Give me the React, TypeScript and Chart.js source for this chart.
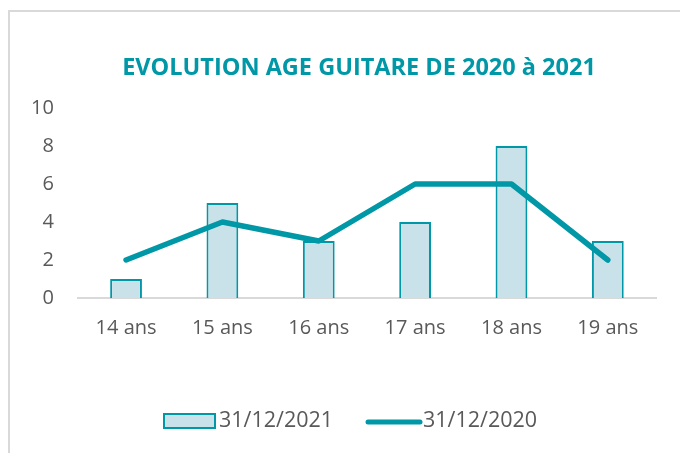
import React, { useEffect, useRef } from "react";
import { Chart, registerables } from "chart.js";

Chart.register(...registerables);

const categories = ["14 ans", "15 ans", "16 ans", "17 ans", "18 ans", "19 ans"];
const bars2021 = [1, 5, 3, 4, 8, 3];
const line2020 = [2, 4, 3, 6, 6, 2];
const yTicks = [0, 2, 4, 6, 8, 10];
const titleText = "EVOLUTION AGE GUITARE DE 2020 à 2021";
const label2021 = "31/12/2021";
const label2020 = "31/12/2020";

const TEAL = "#0097A7";
const BAR_FILL = "#C9E2E9";
const TEXT = "#595959";
const FONT = "'Open Sans', sans-serif";

const overlay = {
  id: "overlay",
  afterDraw(chart: any) {
    const ctx = chart.ctx;
    ctx.save();
    // title
    ctx.fillStyle = TEAL;
    ctx.font = `700 23.5px ${FONT}`;
    ctx.textAlign = "center";
    ctx.textBaseline = "alphabetic";
    ctx.fillText(titleText, 359, 75);
    // legend
    ctx.font = `21.5px ${FONT}`;
    ctx.textAlign = "left";
    ctx.textBaseline = "middle";
    const ly = 421;
    ctx.fillStyle = BAR_FILL;
    ctx.fillRect(164, 414, 51, 14);
    ctx.strokeStyle = TEAL;
    ctx.lineWidth = 2;
    ctx.strokeRect(164, 414, 51, 14);
    ctx.fillStyle = TEXT;
    ctx.fillText(chart.data.datasets[0].label, 219, ly);
    ctx.strokeStyle = TEAL;
    ctx.lineWidth = 5;
    ctx.lineCap = "round";
    ctx.beginPath();
    ctx.moveTo(368, 422);
    ctx.lineTo(420, 422);
    ctx.stroke();
    ctx.fillStyle = TEXT;
    ctx.fillText(chart.data.datasets[1].label, 423, ly);
    ctx.restore();
  },
};

export default function App() {
  const ref = useRef<HTMLCanvasElement>(null);
  useEffect(() => {
    const chart = new Chart(ref.current!, {
      type: "bar",
      data: {
        labels: categories,
        datasets: [
          {
            type: "bar",
            label: label2021,
            data: bars2021,
            backgroundColor: BAR_FILL,
            borderColor: TEAL,
            borderWidth: 2,
            barPercentage: 0.33,
            categoryPercentage: 1,
            order: 2,
          },
          {
            type: "line",
            label: label2020,
            data: line2020,
            borderColor: TEAL,
            borderWidth: 5.5,
            pointRadius: 0,
            borderCapStyle: "round",
            borderJoinStyle: "round",
            tension: 0,
            order: 1,
          } as any,
        ],
      },
      options: {
        animation: false,
        responsive: false,
        layout: { padding: { top: 108, left: 7, right: 24, bottom: 95 } },
        plugins: { legend: { display: false }, title: { display: false }, tooltip: { enabled: false } },
        scales: {
          x: {
            grid: { display: false, drawTicks: false },
            border: { display: true, color: "#D9D9D9", width: 2 },
            ticks: { color: TEXT, font: { family: FONT, size: 20 }, padding: 18 },
          },
          y: {
            min: 0,
            max: 10,
            afterBuildTicks: (axis: any) => {
              axis.ticks = yTicks.map((v) => ({ value: v }));
            },
            grid: { display: false, drawTicks: false },
            border: { display: false },
            ticks: { color: TEXT, font: { family: FONT, size: 20 }, padding: 24 },
          },
        },
      },
      plugins: [overlay],
    });
    return () => chart.destroy();
  }, []);
  return (
    <div style={{ position: "fixed", left: 0, top: 0, width: 680, height: 453, background: "#fff" }}>
      <div
        style={{
          position: "absolute",
          left: 8,
          top: 10,
          width: 700,
          height: 500,
          borderLeft: "2px solid #D9D9D9",
          borderTop: "2px solid #D9D9D9",
        }}
      />
      <canvas ref={ref} width={680} height={453} style={{ position: "absolute", left: 0, top: 0 }} />
    </div>
  );
}
